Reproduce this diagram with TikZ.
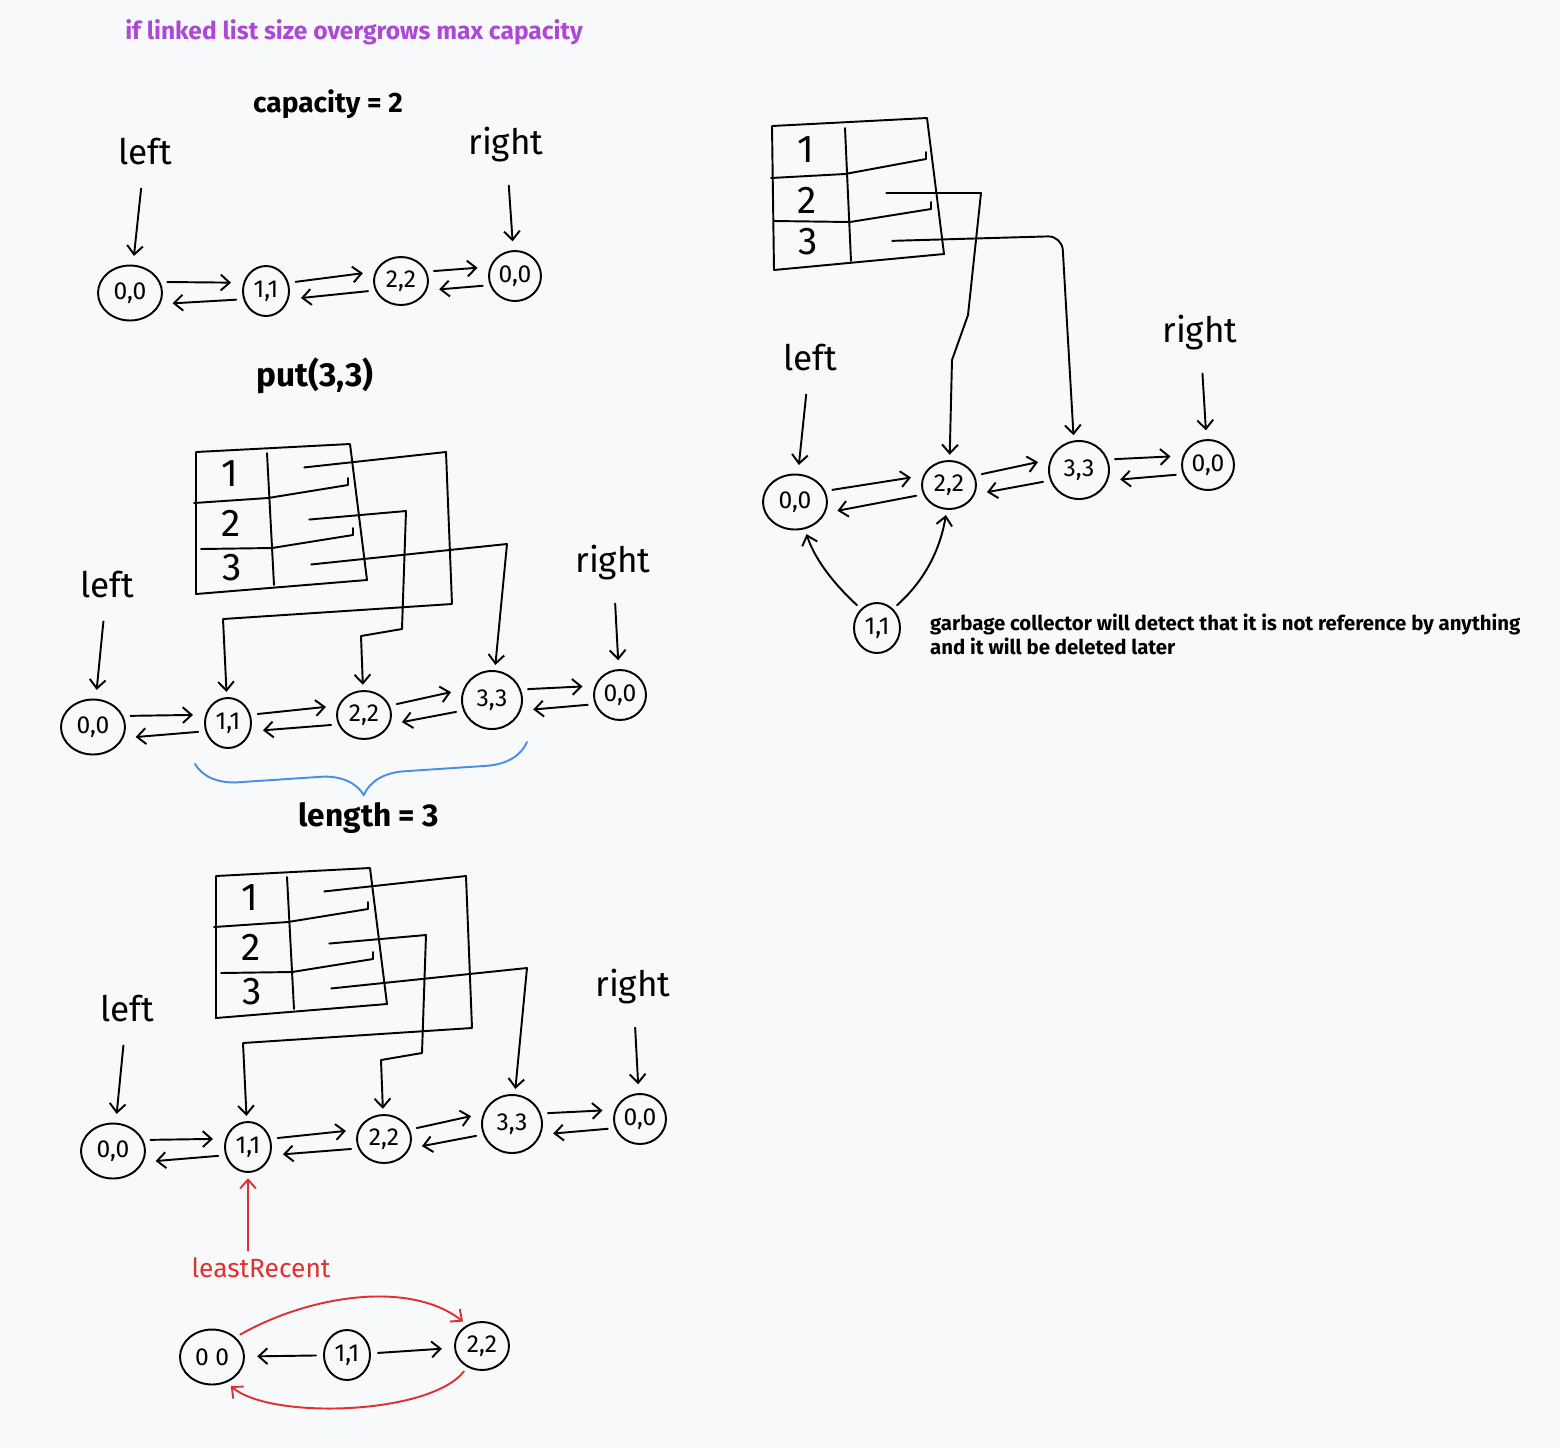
\documentclass[tikz,border=0pt]{standalone}
\usepackage{fontspec}
\setmainfont{Fira Sans}
\usetikzlibrary{shapes.geometric, arrows.meta, decorations.pathreplacing}
\definecolor{paper}{RGB}{248,249,251}
\definecolor{lilac}{RGB}{172,72,212}
\definecolor{redpen}{RGB}{224,49,49}
\definecolor{bluepen}{RGB}{74,144,226}

\tikzset{
	pen/.style={line width=1.1pt, line cap=round, line join=round},
	ptr/.style={pen, -{Straight Barb[length=5pt, width=9pt]}, shorten >=3pt, shorten <=3pt},
	tagptr/.style={ptr, shorten <=12pt, shorten >=5pt},
	link/.style={ptr, shorten <=4pt, shorten >=7pt},
	kv/.style={draw, pen, ellipse, inner sep=0pt, minimum width=1.08cm, minimum height=0.96cm, font=\fontsize{14}{14}\selectfont},
	slim/.style={kv, minimum width=0.92cm, minimum height=1cm},
	wide/.style={kv, minimum width=1.2cm, minimum height=1.16cm},
	lhead/.style={kv, minimum width=1.28cm, minimum height=1.1cm},
	rtail/.style={kv, minimum width=1.04cm, minimum height=1cm},
	hand/.style={font=\fontsize{20}{20}\selectfont, inner sep=1pt},
	digit/.style={font=\fontsize{22}{22}\selectfont, inner sep=0pt},
	heading/.style={font=\bfseries\fontsize{16}{16}\selectfont},
}

% list with its table, drawn twice
\newcommand{\lrustate}{
	% table
	\draw[pen] (196,452) -- (350,444) -- (367,580) -- (196,594) -- cycle;
	\draw[pen] (267,453) -- (274,585);
	\draw[pen] (194,503) -- (268,498) -- (348,485) -- ++(0,-7);
	\draw[pen] (201,549) -- (272,548) -- (353,535) -- ++(0,-7);
	\node[digit] (k1) at (230,474) {1};
	\node[digit] (k2) at (231,523) {2};
	\node[digit] (k3) at (232,568) {3};
	\coordinate (v1) at (299,468);
	\coordinate (v2) at (304,520);
	\coordinate (v3) at (306,565);
	% list
	\node[lhead] (n00) at (93,727) {0,0};
	\node[slim] (n11) at (228,723) {1,1};
	\node[kv] (n22) at (364,715) {2,2};
	\node[wide] (n33) at (492,700) {3,3};
	\node[rtail] (r00) at (620,695) {0,0};
	\node[hand] (lft) at (107,585) {left};
	\node[hand] (rgt) at (613,563) {right};
	\draw[tagptr] (lft) -- (n00);
	\draw[tagptr] (rgt) -- (r00);
	\foreach \a/\b in {n00/n11, n11/n22, n22/n33, n33/r00} {
		\draw[link] (\a.20) -- (\b.160);
		\draw[link] (\b.-160) -- (\a.-20);
	}
	% pointers
	\draw[ptr] (v1) -- (446,452) -- (452,604) -- (223,619) -- (n11);
	\draw[ptr] (v2) -- (406,511) -- (402,629) -- (361,636) -- (n22);
	\draw[ptr] (v3) -- (507,544) -- (n33);
}

\begin{document}
\begin{tikzpicture}[x=0.02cm, y=-0.02cm]
	\fill[paper] (0,0) rectangle (1560,1448);
	\useasboundingbox (0,0) rectangle (1560,1448);
	\node[font=\bfseries\fontsize{14}{14}\selectfont, text=lilac] (title) at (354,32) {if linked list size overgrows max capacity};

	% capacity = 2
	\node[heading] (cap) at (328,104) {capacity = 2};
	\node[hand] (alft) at (145,152) {left};
	\node[hand] (argt) at (506,145) {right};
	\node[lhead] (a00) at (130,293) {0,0};
	\node[slim] (a11) at (266,291) {1,1};
	\node[kv] (a22) at (401,281) {2,2};
	\node[rtail] (ar) at (515,276) {0,0};
	\draw[tagptr] (alft) -- (a00);
	\draw[tagptr] (argt) -- (ar);
	\foreach \a/\b in {a00/a11, a11/a22, a22/ar} {
		\draw[link] (\a.20) -- (\b.160);
		\draw[link] (\b.-160) -- (\a.-20);
	}

	% put(3,3)
	\node[heading, font=\bfseries\fontsize{19}{19}\selectfont] (put) at (315,376) {put(3,3)};
	\scope[name prefix=m-]
		\lrustate
	\endscope
	\coordinate (bra) at (527,742);
	\coordinate (brb) at (195,764);
	\draw[pen, bluepen, decorate, decoration={brace, amplitude=24pt}] (bra) -- (brb);
	\node[heading, font=\bfseries\fontsize{18}{18}\selectfont] (len) at (369,818) {length = 3};

	% evict least recent
	\scope[shift={(20,424)}, name prefix=b-]
		\lrustate
	\endscope
	\node[hand, text=redpen, font=\fontsize{15}{15}\selectfont] (lr) at (261,1268) {leastRecent};
	\draw[ptr, redpen] (lr.north -| b-n11) -- (b-n11);
	\node[lhead] (z00) at (212,1357) {0 0};
	\node[slim] (z11) at (347,1355) {1,1};
	\node[kv] (z22) at (482,1346) {2,2};
	\draw[link] (z11) -- (z22);
	\draw[link] (z11) -- (z00);
	\draw[ptr, redpen] (z00.40) .. controls (310,1295) and (410,1280) .. (z22.125);
	\draw[ptr, redpen] (z22.-125) .. controls (430,1415) and (270,1420) .. (z00.-60);

	% after eviction
	\draw[pen] (772,126) -- (927,118) -- (944,254) -- (774,270) -- cycle;
	\draw[pen] (845,128) -- (851,261);
	\draw[pen] (771,178) -- (845,174) -- (926,159) -- ++(0,-7);
	\draw[pen] (774,221) -- (850,222) -- (931,209) -- ++(0,-7);
	\node[digit] (p1) at (806,150) {1};
	\node[digit] (p2) at (807,200) {2};
	\node[digit] (p3) at (808,242) {3};
	\coordinate (w2) at (881,193);
	\coordinate (w3) at (887,241);
	\node[hand] (qlft) at (810,358) {left};
	\node[hand] (qrgt) at (1200,333) {right};
	\node[lhead] (q00) at (795,502) {0,0};
	\node[kv] (q22) at (949,485) {2,2};
	\node[wide] (q33) at (1079,470) {3,3};
	\node[rtail] (qr) at (1208,465) {0,0};
	\node[slim] (q11) at (877,628) {1,1};
	\draw[tagptr] (qlft) -- (q00);
	\draw[tagptr] (qrgt) -- (qr);
	\foreach \a/\b in {q00/q22, q22/q33, q33/qr} {
		\draw[link] (\a.20) -- (\b.160);
		\draw[link] (\b.-160) -- (\a.-20);
	}
	\draw[ptr] (w2) -- (981,193) -- (968,315) -- (952,360) -- (q22);
	\draw[ptr, rounded corners=8pt] (w3) -- (1062,236) -- (q33.100);
	\draw[ptr] (q11.130) .. controls (835,585) and (815,560) .. (q00.-70);
	\draw[ptr] (q11.50) .. controls (925,580) and (940,550) .. (q22.-95);
	\node[anchor=west, align=left, font=\bfseries\fontsize{11.6}{13.6}\selectfont] (gc) at (924,634) {garbage collector will detect that it is not reference by anything\\and it will be deleted later};
\end{tikzpicture}
\end{document}
